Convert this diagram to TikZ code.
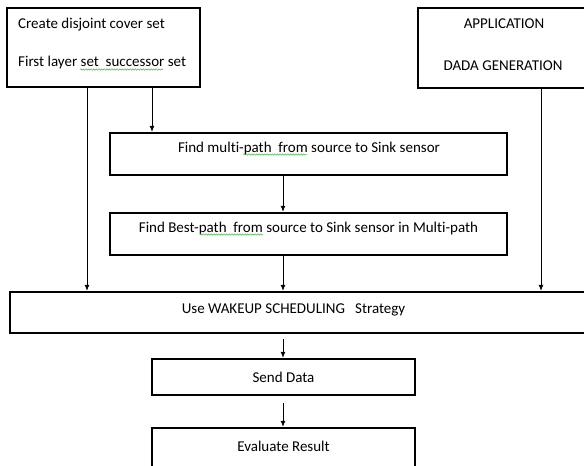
\documentclass[tikz,border=0pt]{standalone}
\usepackage{fontspec}
\setmainfont{Carlito}[Ligatures=NoCommon]
\usetikzlibrary{arrows.meta,decorations.pathmorphing}

\tikzset{
  box/.style={draw,rectangle,line width=2.5pt,inner sep=0pt},
  lbl/.style={inner sep=0pt,font=\fontsize{15}{17}\selectfont},
  flow/.style={-{Latex[length=6pt,width=5pt]},line width=.7pt},
  squig/.style={green!55!black!70,line width=.5pt,decorate,
    decoration={snake,amplitude=.7pt,segment length=2.6pt}},
}

\begin{document}
\begin{tikzpicture}[x=1pt,y=-1pt]
\useasboundingbox (0,0) rectangle (584,466);

\node[box,minimum width=193pt,minimum height=79pt] (cover) at (103.5,47.5) {};
\node[box,minimum width=172pt,minimum height=80pt] (app) at (504,48) {};
\node[box,minimum width=397pt,minimum height=42pt] (multi) at (308.5,154) {};
\node[box,minimum width=397pt,minimum height=42pt] (best) at (308.5,234) {};
\node[box,minimum width=590pt,minimum height=41pt] (wake) at (305,312.5) {};
\node[box,minimum width=263pt,minimum height=36pt] (send) at (283.5,377) {};
\node[box,minimum width=263pt,minimum height=47pt] (eval) at (283.5,451.5) {};

\node[lbl,anchor=base west] (coverA) at (18,28.5) {Create disjoint cover set};
\node[lbl,anchor=base west] (coverB) at (18,66.5) {First layer set\ \ successor set};
\node[lbl,anchor=base] (appA) at (504,28.5) {APPLICATION};
\node[lbl,anchor=base] (appB) at (503,70.5) {DADA GENERATION};
\node[lbl,anchor=base] (multiT) at (309,152) {Find multi-path\ \ from source to Sink sensor};
\node[lbl,anchor=base] (bestT) at (308.5,232) {Find Best-path\ \ from source to Sink sensor in Multi-path};
\node[lbl,anchor=base] (wakeT) at (293.5,313) {Use WAKEUP SCHEDULING\ \ \ Strategy};
\node[lbl,anchor=base] (sendT) at (283.5,382) {Send Data};
\node[lbl,anchor=base] (evalT) at (283.5,451) {Evaluate Result};

% spelling marks
\draw[squig] (80,69.5) -- (163,69.5);
\draw[squig] (243,154.5) -- (307,154.5);
\draw[squig] (200,234.5) -- (263,234.5);

\coordinate (c1) at (87,87);
\coordinate (c2) at (152,87);
\coordinate (c3) at (541,88);
\coordinate (s1) at (283,339);
\coordinate (s2) at (283,403);

\draw[flow] (c1) -- (c1 |- wake.north);
\draw[flow] (c2) -- (c2 |- multi.north);
\draw[flow] (c3) -- (c3 |- wake.north);
\draw[flow] (multi.south -| s1) -- (best.north -| s1);
\draw[flow] (best.south -| s1) -- (wake.north -| s1);
\draw[flow] (s1) -- (s1 |- send.north);
\draw[flow] (s2) -- (s2 |- eval.north);

\end{tikzpicture}
\end{document}
